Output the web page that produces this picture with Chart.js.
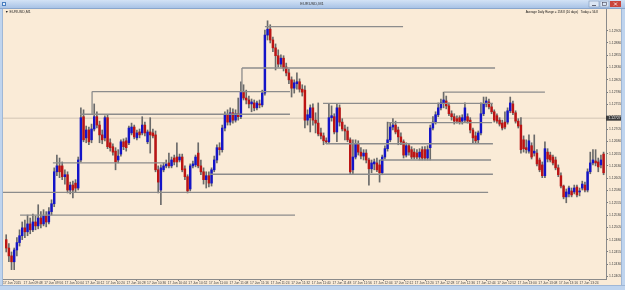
<!DOCTYPE html>
<html><head><meta charset="utf-8">
<script src="https://cdn.jsdelivr.net/npm/chart.js@4.4.0/dist/chart.umd.min.js"></script>
<style>html,body{margin:0;padding:0;background:#faebd7;overflow:hidden}canvas{display:block}</style>
</head><body><canvas id="c" width="625" height="290"></canvas>
<script>
const WINDOW_TITLE = "EURUSD,M1";
const CHART_LABEL = "\u25BC EURUSD,M1";
const INFO_TEXT = "Average Daily Range = 158.8 (10 days)   Today = 56.8";

const OPEN = [1.12480,1.12463,1.12447,1.12435,1.12459,1.12474,1.12488,1.12504,1.12496,1.12512,
1.12500,1.12516,1.12508,1.12524,1.12512,1.12528,1.12516,1.12537,1.12553,1.12618,
1.12630,1.12630,1.12608,1.12612,1.12581,1.12591,1.12595,1.12585,1.12642,1.12730,
1.12687,1.12703,1.12683,1.12705,1.12730,1.12713,1.12693,1.12687,1.12728,1.12677,
1.12669,1.12660,1.12642,1.12654,1.12679,1.12681,1.12677,1.12697,1.12709,1.12687,
1.12699,1.12697,1.12713,1.12679,1.12699,1.12697,1.12693,1.12622,1.12581,1.12622,
1.12630,1.12636,1.12630,1.12646,1.12648,1.12642,1.12648,1.12624,1.12608,1.12583,
1.12630,1.12632,1.12656,1.12630,1.12618,1.12602,1.12610,1.12595,1.12622,1.12642,
1.12667,1.12663,1.12707,1.12734,1.12719,1.12738,1.12723,1.12736,1.12730,1.12780,
1.12768,1.12764,1.12756,1.12758,1.12748,1.12756,1.12754,1.12778,1.12896,1.12908,
1.12886,1.12870,1.12854,1.12837,1.12849,1.12831,1.12819,1.12805,1.12788,1.12797,
1.12801,1.12786,1.12784,1.12723,1.12728,1.12748,1.12723,1.12717,1.12697,1.12691,
1.12681,1.12679,1.12728,1.12730,1.12699,1.12748,1.12719,1.12705,1.12701,1.12683,
1.12622,1.12648,1.12675,1.12658,1.12650,1.12656,1.12642,1.12624,1.12634,1.12636,
1.12632,1.12616,1.12648,1.12665,1.12683,1.12709,1.12713,1.12703,1.12689,1.12679,
1.12652,1.12671,1.12663,1.12658,1.12656,1.12648,1.12663,1.12663,1.12646,1.12667,
1.12707,1.12719,1.12734,1.12748,1.12758,1.12762,1.12752,1.12736,1.12730,1.12726,
1.12728,1.12721,1.12723,1.12730,1.12723,1.12703,1.12691,1.12683,1.12697,1.12736,
1.12756,1.12760,1.12750,1.12740,1.12732,1.12723,1.12717,1.12719,1.12719,1.12742,
1.12756,1.12738,1.12721,1.12713,1.12683,1.12667,1.12660,1.12671,1.12656,1.12656,
1.12642,1.12632,1.12610,1.12658,1.12652,1.12648,1.12642,1.12626,1.12610,1.12589,
1.12567,1.12573,1.12579,1.12577,1.12587,1.12577,1.12585,1.12591,1.12581,1.12618,
1.12636,1.12640,1.12638,1.12632,1.12654];

const HIGH = [1.12490,1.12472,1.12455,1.12463,1.12484,1.12500,1.12516,1.12520,1.12530,1.12524,
1.12532,1.12528,1.12551,1.12537,1.12541,1.12537,1.12545,1.12561,1.12626,1.12652,
1.12646,1.12638,1.12622,1.12618,1.12597,1.12599,1.12602,1.12648,1.12748,1.12744,
1.12711,1.12709,1.12715,1.12756,1.12740,1.12721,1.12703,1.12732,1.12734,1.12685,
1.12675,1.12667,1.12663,1.12683,1.12685,1.12687,1.12711,1.12717,1.12713,1.12703,
1.12705,1.12730,1.12719,1.12703,1.12728,1.12705,1.12701,1.12630,1.12632,1.12636,
1.12642,1.12656,1.12648,1.12652,1.12677,1.12654,1.12654,1.12630,1.12612,1.12634,
1.12640,1.12652,1.12677,1.12642,1.12626,1.12618,1.12618,1.12626,1.12650,1.12673,
1.12677,1.12713,1.12740,1.12744,1.12748,1.12746,1.12744,1.12768,1.12801,1.12795,
1.12784,1.12772,1.12766,1.12764,1.12762,1.12764,1.12784,1.12906,1.12925,1.12917,
1.12892,1.12878,1.12866,1.12856,1.12854,1.12839,1.12827,1.12811,1.12805,1.12819,
1.12807,1.12795,1.12793,1.12744,1.12754,1.12756,1.12738,1.12758,1.12707,1.12697,
1.12687,1.12756,1.12752,1.12736,1.12756,1.12754,1.12726,1.12713,1.12709,1.12687,
1.12683,1.12683,1.12681,1.12667,1.12663,1.12663,1.12646,1.12642,1.12644,1.12646,
1.12642,1.12652,1.12671,1.12719,1.12717,1.12726,1.12721,1.12709,1.12697,1.12683,
1.12677,1.12675,1.12669,1.12665,1.12663,1.12665,1.12669,1.12669,1.12671,1.12713,
1.12730,1.12740,1.12758,1.12766,1.12780,1.12772,1.12758,1.12742,1.12736,1.12732,
1.12732,1.12734,1.12758,1.12736,1.12728,1.12707,1.12699,1.12701,1.12758,1.12770,
1.12770,1.12766,1.12756,1.12744,1.12736,1.12728,1.12723,1.12740,1.12748,1.12770,
1.12762,1.12742,1.12726,1.12728,1.12691,1.12683,1.12693,1.12677,1.12693,1.12663,
1.12646,1.12638,1.12679,1.12665,1.12658,1.12652,1.12648,1.12632,1.12616,1.12591,
1.12583,1.12589,1.12585,1.12591,1.12591,1.12585,1.12599,1.12597,1.12624,1.12658,
1.12663,1.12663,1.12646,1.12652,1.12658];

const LOW = [1.12455,1.12435,1.12419,1.12419,1.12447,1.12467,1.12480,1.12484,1.12488,1.12492,
1.12496,1.12500,1.12502,1.12504,1.12508,1.12506,1.12512,1.12530,1.12547,1.12610,
1.12606,1.12602,1.12593,1.12575,1.12573,1.12565,1.12577,1.12581,1.12638,1.12679,
1.12677,1.12673,1.12677,1.12701,1.12707,1.12677,1.12675,1.12681,1.12665,1.12660,
1.12652,1.12622,1.12636,1.12650,1.12663,1.12660,1.12673,1.12693,1.12685,1.12683,
1.12687,1.12693,1.12691,1.12675,1.12656,1.12687,1.12618,1.12575,1.12551,1.12618,
1.12626,1.12626,1.12626,1.12632,1.12628,1.12638,1.12618,1.12602,1.12575,1.12579,
1.12626,1.12628,1.12626,1.12612,1.12593,1.12585,1.12587,1.12589,1.12618,1.12636,
1.12652,1.12658,1.12701,1.12713,1.12713,1.12717,1.12719,1.12723,1.12726,1.12764,
1.12756,1.12748,1.12740,1.12742,1.12744,1.12748,1.12750,1.12774,1.12886,1.12880,
1.12862,1.12825,1.12831,1.12831,1.12823,1.12813,1.12797,1.12770,1.12778,1.12786,
1.12780,1.12772,1.12707,1.12713,1.12699,1.12713,1.12697,1.12691,1.12685,1.12673,
1.12675,1.12675,1.12721,1.12695,1.12679,1.12711,1.12701,1.12683,1.12679,1.12614,
1.12612,1.12644,1.12652,1.12644,1.12642,1.12636,1.12591,1.12616,1.12622,1.12618,
1.12597,1.12612,1.12644,1.12660,1.12679,1.12703,1.12695,1.12673,1.12673,1.12646,
1.12648,1.12652,1.12644,1.12644,1.12644,1.12642,1.12642,1.12642,1.12642,1.12642,
1.12703,1.12715,1.12730,1.12744,1.12748,1.12746,1.12732,1.12723,1.12715,1.12717,
1.12715,1.12715,1.12719,1.12717,1.12697,1.12677,1.12677,1.12677,1.12693,1.12732,
1.12750,1.12746,1.12736,1.12719,1.12717,1.12711,1.12703,1.12705,1.12715,1.12738,
1.12734,1.12717,1.12707,1.12656,1.12658,1.12656,1.12656,1.12644,1.12650,1.12630,
1.12618,1.12606,1.12606,1.12638,1.12638,1.12632,1.12622,1.12608,1.12585,1.12563,
1.12555,1.12567,1.12567,1.12573,1.12567,1.12569,1.12581,1.12577,1.12577,1.12614,
1.12632,1.12630,1.12618,1.12626,1.12612];

const CLOSE = [1.12463,1.12447,1.12435,1.12459,1.12474,1.12488,1.12504,1.12496,1.12512,1.12500,
1.12516,1.12508,1.12524,1.12512,1.12528,1.12516,1.12537,1.12553,1.12618,1.12630,
1.12618,1.12608,1.12612,1.12581,1.12591,1.12581,1.12585,1.12642,1.12728,1.12683,
1.12703,1.12679,1.12705,1.12730,1.12713,1.12693,1.12683,1.12728,1.12669,1.12667,
1.12658,1.12638,1.12650,1.12679,1.12669,1.12667,1.12707,1.12709,1.12689,1.12697,
1.12693,1.12713,1.12697,1.12699,1.12693,1.12691,1.12622,1.12597,1.12626,1.12630,
1.12634,1.12630,1.12642,1.12638,1.12638,1.12648,1.12622,1.12608,1.12579,1.12630,
1.12634,1.12648,1.12630,1.12618,1.12602,1.12610,1.12595,1.12622,1.12642,1.12667,
1.12663,1.12707,1.12734,1.12719,1.12738,1.12723,1.12736,1.12730,1.12780,1.12768,
1.12764,1.12756,1.12760,1.12748,1.12758,1.12754,1.12778,1.12896,1.12908,1.12886,
1.12870,1.12854,1.12837,1.12849,1.12829,1.12819,1.12805,1.12788,1.12799,1.12801,
1.12786,1.12780,1.12723,1.12734,1.12748,1.12723,1.12717,1.12695,1.12691,1.12681,
1.12679,1.12728,1.12732,1.12699,1.12748,1.12719,1.12705,1.12701,1.12683,1.12618,
1.12648,1.12675,1.12658,1.12650,1.12656,1.12642,1.12624,1.12636,1.12638,1.12622,
1.12616,1.12648,1.12665,1.12683,1.12709,1.12713,1.12699,1.12689,1.12679,1.12652,
1.12671,1.12658,1.12648,1.12648,1.12648,1.12658,1.12646,1.12646,1.12663,1.12707,
1.12719,1.12734,1.12748,1.12758,1.12764,1.12752,1.12736,1.12730,1.12721,1.12721,
1.12719,1.12728,1.12748,1.12721,1.12703,1.12687,1.12681,1.12697,1.12736,1.12756,
1.12762,1.12750,1.12740,1.12723,1.12721,1.12715,1.12707,1.12709,1.12742,1.12758,
1.12738,1.12721,1.12711,1.12663,1.12665,1.12663,1.12681,1.12648,1.12660,1.12634,
1.12622,1.12610,1.12665,1.12644,1.12642,1.12636,1.12626,1.12612,1.12589,1.12567,
1.12577,1.12585,1.12571,1.12585,1.12571,1.12579,1.12593,1.12581,1.12618,1.12636,
1.12642,1.12636,1.12628,1.12642,1.12616];

const Y_TICKS = [1.12405,1.12430,1.12455,1.12480,1.12505,1.12530,1.12555,1.12580,1.12605,1.12630,
1.12655,1.12680,1.12705,1.12730,1.12755,1.12780,1.12805,1.12830,1.12855,1.12880,1.12905];

const X_LABELS = ["17 Jun 2015","17 Jun 09:48","17 Jun 09:56","17 Jun 10:04","17 Jun 10:12","17 Jun 10:20",
"17 Jun 10:28","17 Jun 10:36","17 Jun 10:44","17 Jun 10:52","17 Jun 11:00","17 Jun 11:08","17 Jun 11:16",
"17 Jun 11:24","17 Jun 11:32","17 Jun 11:40","17 Jun 11:48","17 Jun 11:56","17 Jun 12:04","17 Jun 12:12",
"17 Jun 12:20","17 Jun 12:28","17 Jun 12:36","17 Jun 12:44","17 Jun 12:52","17 Jun 13:00","17 Jun 13:08",
"17 Jun 13:16","17 Jun 13:24"];

const CURRENT_PRICE = 1.12727;

// support / resistance lines: level, from bar, to bar
const H_LEVELS = [1.12913,1.12829,1.12781,1.12780,1.12757,1.12735,1.12718,1.12675,1.12642,1.12636,1.12613,1.12576,1.12530];
const H_FROM   = [97.0, 88.4, 32.2, 164.2, 118.8, 27.7, 143.2, 119.9, 140.2, 17.5, 76.4, -1.2, 5.2];
const H_TO     = [148.8, 183.3, 106.4, 202.0, 182.5, 106.4, 182.2, 182.5, 181.8, 60.3, 182.5, 180.7, 108.3];
// vertical connectors: bar, from level, to level
const V_AT   = [88.4, 32.2];
const V_FROM = [1.12829, 1.12781];
const V_TO   = [1.12781, 1.12735];

const X_MIN = -1.2, X_MAX = 224.9, LABEL_STEP = 7.72;
const BULL = '#1414c8', BEAR = '#bc1414', DOJI = '#777777', WICK = '#6a6a6a', LEVEL = '#8c8c8c';

const idx = OPEN.map((_, i) => i);
const datasets = [];
datasets.push({type:'line', data:[{x:X_MIN,y:CURRENT_PRICE},{x:X_MAX,y:CURRENT_PRICE}], borderColor:'rgba(150,140,130,0.4)', borderWidth:1, pointRadius:0, order:5});
datasets.push({type:'bar', data: idx.map(i => ({x:i, y:[LOW[i], HIGH[i]]})), backgroundColor: WICK, barThickness:1, grouped:false, order:3, borderWidth:0});
datasets.push({type:'bar', data: idx.map(i => ({x:i, y:[OPEN[i], CLOSE[i]]})),
  backgroundColor: idx.map(i => CLOSE[i] > OPEN[i] ? BULL : (CLOSE[i] < OPEN[i] ? BEAR : DOJI)),
  barThickness:1.8, grouped:false, order:2, borderWidth:0, minBarLength:1});
H_LEVELS.forEach((lv, k) => datasets.push({type:'line', data:[{x:H_FROM[k],y:lv},{x:H_TO[k],y:lv}], borderColor:LEVEL, borderWidth:1.3, pointRadius:0, order:0}));
V_AT.forEach((b, k) => datasets.push({type:'line', data:[{x:b,y:V_FROM[k]},{x:b,y:V_TO[k]}], borderColor:LEVEL, borderWidth:1.3, pointRadius:0, order:0}));

const chrome = {
  id:'chrome',
  beforeDraw(c){ const g=c.ctx; g.save(); g.fillStyle='#faebd7'; g.fillRect(0,0,625,290); g.restore(); },
  afterDraw(c){
    const g=c.ctx; g.save();
    const ys=c.scales.y;
    const py=ys.getPixelForValue(CURRENT_PRICE);
    g.fillStyle='#3c3c3c'; g.fillRect(606,py-2.5,15,5);
    g.fillStyle='#f0f0f0'; g.font='3.4px "Liberation Sans", Arial'; g.textBaseline='middle'; g.textAlign='left';
    g.fillText(CURRENT_PRICE.toFixed(5),608.5,py);
    g.fillStyle='#bfd4ee'; g.fillRect(0,0,3,290); g.fillRect(621,0,4,290); g.fillRect(0,285,625,5);
    g.fillStyle='#9fb7d6'; g.fillRect(2,8,1,277); g.fillRect(621,8,1,277); g.fillRect(0,285,625,1);
    const gr=g.createLinearGradient(0,0,0,8); gr.addColorStop(0,'#d3e2f5'); gr.addColorStop(1,'#a9c3e6');
    g.fillStyle=gr; g.fillRect(0,0,625,8);
    g.fillStyle='#8aa6cc'; g.fillRect(0,8,625,1);
    g.fillStyle='#4a7fc0'; g.fillRect(2,2,4,4); g.fillStyle='#e8f0fa'; g.fillRect(3,3,2,2);
    g.fillStyle='#333'; g.font='4px "Liberation Sans", Arial'; g.textAlign='center'; g.textBaseline='middle';
    g.fillText(WINDOW_TITLE,312,4.2);
    g.fillStyle='#dbe6f4'; g.fillRect(589,1,10,6); g.fillRect(600,1,9,6);
    g.strokeStyle='#7f98bb'; g.lineWidth=0.6; g.strokeRect(589,1,10,6); g.strokeRect(600,1,9,6);
    g.fillStyle='#c9463d'; g.fillRect(610,1,11,6);
    g.fillStyle='#445'; g.fillRect(592,5,4,0.8); g.strokeStyle='#445'; g.strokeRect(602.5,2.5,4,3);
    g.strokeStyle='#fff'; g.lineWidth=0.8; g.beginPath(); g.moveTo(614,2.5); g.lineTo(617,5.5); g.moveTo(617,2.5); g.lineTo(614,5.5); g.stroke();
    g.fillStyle='#222'; g.font='3.6px "Liberation Sans", Arial'; g.textAlign='left';
    g.fillText(CHART_LABEL,5,11.5);
    g.font='3px "Liberation Sans", Arial'; g.textAlign='right'; g.fillStyle='#111';
    g.fillText(INFO_TEXT,598,12);
    g.restore();
  }
};

new Chart(document.getElementById('c'), {
  type:'bar',
  data:{datasets},
  options:{
    responsive:false, devicePixelRatio:1, animation:false,
    layout:{padding:{left:3, top:9, right:4, bottom:5}},
    plugins:{legend:{display:false}, tooltip:{enabled:false}},
    scales:{
      x:{type:'linear', min:X_MIN, max:X_MAX, offset:false,
        grid:{display:true, drawOnChartArea:false, drawTicks:true, tickLength:2, color:'#7a7a7a'},
        border:{display:true, color:'#8a8a8a'},
        ticks:{autoSkip:false, maxRotation:0, minRotation:0, align:'start', padding:0, color:'#444',
          font:{size:3.3, family:'"Liberation Sans", Arial'}, callback:(v,i)=>X_LABELS[i]},
        afterBuildTicks:s=>{ s.ticks = X_LABELS.map((_,k)=>({value:X_MIN + k*LABEL_STEP})); },
        afterFit:s=>{ s.height=6; s.paddingLeft=0; s.paddingRight=0; s.paddingTop=0; s.paddingBottom=0; }
      },
      y:{type:'linear', position:'right', min:1.12400, max:1.12949,
        grid:{display:true, drawOnChartArea:false, drawTicks:true, tickLength:2, color:'#7a7a7a'},
        border:{display:true, color:'#8a8a8a'},
        ticks:{padding:1, color:'#444', font:{size:3.4, family:'"Liberation Sans", Arial'}, callback:v=>v.toFixed(5)},
        afterBuildTicks:s=>{ s.ticks = Y_TICKS.map(v=>({value:v})); },
        afterFit:s=>{ s.width=15; s.paddingTop=0; s.paddingBottom=0; s.paddingLeft=0; s.paddingRight=0; }
      }
    }
  },
  plugins:[chrome]
});
</script>
</body></html>
